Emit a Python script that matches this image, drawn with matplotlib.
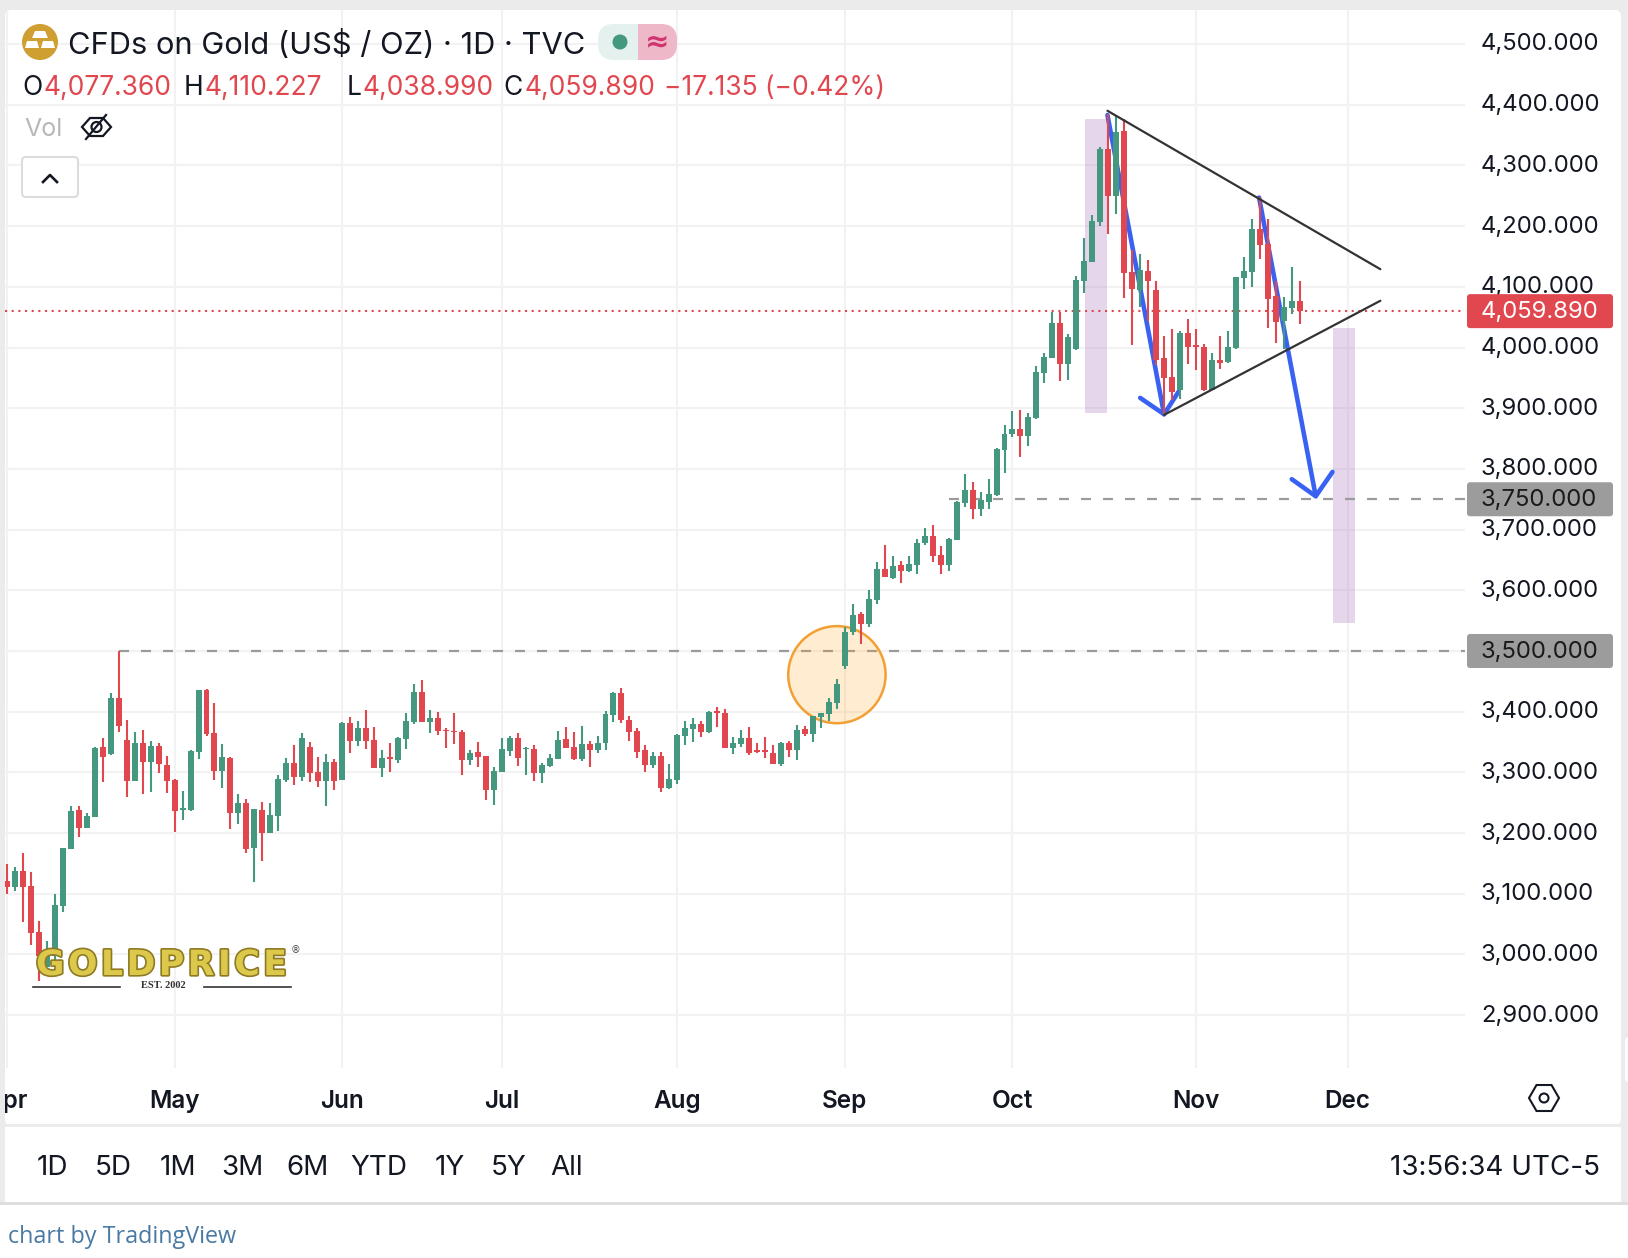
import matplotlib
matplotlib.use("Agg")
import matplotlib.pyplot as plt
import matplotlib.patheffects as pe
from matplotlib.patches import Rectangle, FancyBboxPatch, Ellipse, Circle, Polygon, RegularPolygon
from matplotlib.transforms import ScaledTranslation

# ---------- data ----------
opens = [3121,3111,3138,3113,3037,2980,2997,3080,3174,3238,3208,3227,3342,3330,3423,3353,3286,3348,3317,3343,
         3312,3287,3238,3238,3334,3436,3365,3302,3324,3233,3250,3176,3238,3200,3228,3287,3316,3292,3342,3301,
         3286,3317,3287,3381,3352,3373,3353,3307,3325,3320,3355,3383,3432,3383,3390,3370,3368,3367,3320,3334,
         3327,3271,3301,3335,3357,3339,3339,3299,3311,3322,3355,3342,3322,3347,3337,3348,3395,3431,3386,3368,
         3337,3312,3327,3274,3287,3360,3371,3380,3367,3401,3398,3340,3347,3357,3337,3337,3332,3314,3348,3337,
         3371,3363,3391,3396,3414,3475,3531,3561,3544,3584,3635,3620,3642,3632,3642,3678,3689,3658,3642,3683,
         3744,3765,3734,3745,3757,3831,3857,3866,3854,3884,3958,3983,4040,3973,3997,4109,4141,4207,4327,4249,
         4356,4124,4095,4126,4095,3983,3951,3930,4024,4004,4001,3930,3979,3976,3999,4114,4124,4195,4170,4085,
         4044,4065,4077]
highs = [3149,3144,3167,3136,3055,3022,3100,3176,3245,3245,3233,3342,3357,3431,3500,3386,3367,3370,3352,3348,
         3327,3289,3269,3337,3436,3437,3414,3347,3325,3264,3256,3240,3251,3250,3296,3324,3345,3365,3350,3325,
         3330,3322,3383,3391,3385,3403,3375,3337,3348,3358,3398,3446,3452,3403,3400,3373,3398,3370,3337,3350,
         3327,3309,3357,3360,3365,3342,3345,3316,3330,3368,3375,3367,3376,3352,3360,3401,3432,3439,3393,3373,
         3345,3334,3334,3314,3363,3385,3390,3385,3401,3408,3404,3358,3370,3375,3348,3358,3345,3350,3352,3378,
         3376,3393,3398,3423,3454,3539,3577,3564,3600,3647,3675,3656,3648,3656,3684,3703,3707,3673,3686,3747,
         3792,3778,3762,3783,3834,3872,3895,3897,3892,3969,3991,4058,4058,4022,4118,4180,4218,4330,4384,4381,
         4376,4160,4154,4144,4109,4019,4030,4027,4047,4030,4006,3991,4019,4027,4116,4149,4212,4248,4212,4109,
         4083,4132,4110]
lows = [3100,3105,3054,3016,2956,2980,2991,3070,3174,3194,3208,3227,3284,3329,3367,3260,3286,3264,3268,3299,
        3266,3202,3222,3236,3322,3360,3287,3274,3207,3215,3167,3120,3154,3200,3204,3284,3279,3286,3284,3276,
        3245,3271,3287,3332,3343,3339,3307,3292,3301,3315,3339,3380,3383,3365,3362,3340,3347,3296,3312,3309,
        3255,3246,3301,3327,3311,3296,3286,3283,3309,3322,3340,3320,3319,3309,3332,3337,3383,3381,3352,3324,
        3301,3307,3268,3273,3281,3345,3350,3358,3365,3375,3340,3330,3342,3329,3332,3324,3314,3311,3325,3320,
        3360,3350,3373,3385,3404,3470,3526,3511,3539,3577,3622,3619,3612,3630,3627,3675,3647,3627,3632,3683,
        3737,3717,3722,3734,3755,3793,3852,3819,3838,3882,3941,3983,3945,3946,3996,4090,4141,4200,4187,4220,
        4081,4004,4067,4044,3971,3889,3913,3915,3973,3963,3928,3930,3964,3974,3997,4096,4100,4146,4032,4007,
        3997,4055,4039]
closes = [3111,3138,3111,3036,2997,2997,3082,3176,3236,3208,3228,3340,3325,3423,3376,3286,3348,3317,3343,3314,
          3286,3236,3241,3335,3436,3363,3302,3325,3233,3250,3174,3240,3200,3230,3289,3316,3292,3357,3299,3286,
          3317,3286,3381,3352,3373,3352,3307,3324,3322,3357,3385,3432,3383,3390,3368,3368,3367,3320,3332,3325,
          3271,3302,3339,3357,3324,3340,3299,3312,3324,3353,3340,3322,3347,3337,3348,3396,3431,3386,3367,3334,
          3312,3327,3274,3289,3362,3373,3380,3367,3400,3398,3340,3348,3357,3332,3334,3334,3314,3348,3337,3370,
          3363,3393,3398,3416,3446,3531,3559,3544,3586,3635,3622,3640,3632,3643,3678,3689,3656,3642,3684,3745,
          3765,3734,3749,3759,3833,3857,3866,3854,3885,3959,3984,4040,3973,4017,4111,4142,4208,4327,4249,4355,
          4123,4096,4128,4109,3979,3950,3927,4024,4001,4001,3930,3979,3974,4001,4116,4126,4195,4169,4080,4042,
          4067,4076,4060]

price_ticks = [2900,3000,3100,3200,3300,3400,3500,3600,3700,3800,3900,4000,4100,4200,4300,4400,4500]
month_labels = ["Apr","May","Jun","Jul","Aug","Sep","Oct","Nov","Dec"]
month_bars = [0,21,42,62,84,105,126,149,168]
last_price = 4059.89
level_prices = [3750.0, 3500.0]
level_starts = [118, 14]
top_trend = ([137.9,172.1],[4390,4129])
low_trend = ([145.0,172.1],[3889,4077])
arrow_one = ([137.9,145.0],[4383,3890])
arrow_one_head = ([142.0,145.0,146.8],[3917,3890,3927])
arrow_two = ([156.9,164.0],[4247,3755])
arrow_two_head = ([161.0,164.0,166.1],[3783,3755,3795])
band_one = (135.1,137.8,3892,4376)
band_two = (166.2,168.9,3546,4032)
ohlc = [("O",22,"4,077.360",43.5),("H",184,"4,110.227",205),("L",347,"4,038.990",362.5),("C",503,"4,059.890",524)]
change_text = "\u221217.135 (\u22120.42%)"
ranges = [("1D",52),("5D",113),("1M",177.5),("3M",242),("6M",307),("YTD",379),("1Y",450),("5Y",509),("All",567)]

# ---------- look ----------
W,H = 1628,1258
GREEN,RED = "#44987f","#e0474f"
GRID = "#f2f2f2"
INK = "#131722"
BLUE = "#3a62f2"
UI = "Inter"
plt.rcParams["font.family"] = [UI,"DejaVu Sans"]

fig = plt.figure(figsize=(W/100,H/100),dpi=100,facecolor="white")

def box(l,t,r,b):
    return [l/W,1-b/H,(r-l)/W,(b-t)/H]

# page frame behind everything
bg = fig.add_axes([0,0,1,1],zorder=0); bg.set_xlim(0,W); bg.set_ylim(H,0); bg.axis("off")
bg.add_patch(Rectangle((0,0),W,1204,color="#ebebeb",lw=0))
bg.add_patch(FancyBboxPatch((5,10),1616,1115,boxstyle="round,pad=0,rounding_size=6",color="white",lw=0))
bg.add_patch(Rectangle((5,1127),1616,75,color="white",lw=0))

# main chart
ax = fig.add_axes(box(5,10,1465,1068),zorder=1)
ax.patch.set_alpha(0)
PX,X0 = 7.98,7.0
ax.set_xlim((5-X0)/PX,(1465-X0)/PX)
PY = 0.607
ax.set_ylim(3500+(651-1068)/PY,3500+(651-10)/PY)
for s in ax.spines.values(): s.set_visible(False)
ax.set_axisbelow(True)
ax.yaxis.tick_right()
ax.set_yticks(price_ticks)
ax.set_yticklabels([f"{p:,.3f}" for p in price_ticks],fontsize=17.2,color=INK)
ax.set_xticks(month_bars)
ax.set_xticklabels(month_labels,fontsize=17.5,color=INK,fontweight=600)
ax.tick_params(axis="y",length=0,pad=11.5)
ax.tick_params(axis="x",length=0,pad=15.5)
ax.grid(True,color=GRID,lw=1.5)
shift = ScaledTranslation(0,1.5/72,fig.dpi_scale_trans)
for lab in ax.get_yticklabels():
    lab.set_transform(lab.get_transform()+shift)

bars = list(range(len(opens)))
for b0,b1,p0,p1 in (band_one,band_two):
    ax.add_patch(Rectangle((b0,p0),b1-b0,p1-p0,facecolor="#9c5fb5",alpha=0.25,lw=0,zorder=2))
ax.axhline(last_price,color=RED,lw=1.5,ls=(0,(1,2.2)),zorder=2.4)
for p,st in zip(level_prices,level_starts):
    ax.plot([st,ax.get_xlim()[1]],[p,p],color="#9b9b9b",lw=1.6,ls=(0,(4.5,5.4)),zorder=2.5)
ax.add_patch(Ellipse((104,3461),12.2,160,facecolor="#ff9800",alpha=0.18,lw=0,zorder=3))
ax.add_patch(Ellipse((104,3461),12.2,160,facecolor="none",edgecolor="#f2a033",lw=1.8,zorder=3.1))
for ln in (arrow_one,arrow_one_head,arrow_two,arrow_two_head):
    ax.plot(*ln,color=BLUE,lw=3.3,zorder=3.5,solid_capstyle="round",solid_joinstyle="round")
cols = [RED if c<o else GREEN for o,c in zip(opens,closes)]
ax.vlines(bars,lows,highs,colors=cols,lw=1.5,zorder=4)
ax.bar(bars,[abs(c-o) for o,c in zip(opens,closes)],bottom=[min(o,c) for o,c in zip(opens,closes)],
       width=0.75,color=cols,lw=0,zorder=4.1)
for ln in (top_trend,low_trend):
    ax.plot(*ln,color="#333333",lw=1.6,zorder=5,solid_capstyle="round")

# interface drawn over the chart, in screen pixels
ui = fig.add_axes([0,0,1,1],zorder=2); ui.set_xlim(0,W); ui.set_ylim(H,0); ui.axis("off"); ui.patch.set_alpha(0)
ui.add_patch(Rectangle((0,0),5,1204,color="#ebebeb",lw=0,zorder=5))
ui.add_patch(Rectangle((0,1204),W,54,color="white",lw=0,zorder=5))
ui.add_patch(Rectangle((0,1202),W,3,color="#dedede",lw=0,zorder=5.5))
ui.add_patch(Rectangle((5,1124),1616,3,color="#ebebeb",lw=0))
ui.add_patch(Rectangle((1621,0),7,1204,color="#ebebeb",lw=0,zorder=5))
ui.add_patch(FancyBboxPatch((1625,1037),10,45,boxstyle="round,pad=0,rounding_size=4",color="white",lw=0,zorder=5.2))

def ypx(p): return 651+(3500-p)*PY

def tag(p,face,txt,col):
    y=ypx(p)
    ui.add_patch(FancyBboxPatch((1467,y-17),146,34,boxstyle="round,pad=0,rounding_size=3",facecolor=face,edgecolor="none"))
    ui.text(1481,y-2,txt,color=col,fontsize=17.2,va="center_baseline",ha="left")
tag(last_price,RED,f"{last_price:,.3f}","white")
for p in level_prices:
    tag(p,"#9c9c9c",f"{p:,.3f}","#1a1a1a")

# legend head
ui.add_patch(Circle((40,42),18,color="#cf9f31",lw=0))
for pts in ([(35,31),(45,31),(48,38),(32,38)],[(27,41),(37,41),(39,48),(25,48)],[(43,41),(53,41),(55,48),(41,48)]):
    ui.add_patch(Polygon(pts,closed=True,color="white",lw=0))
ui.text(67.5,42.5,"CFDs on Gold (US$ / OZ) \u00b7 1D \u00b7 TVC",fontsize=22.2,color=INK,va="center_baseline")
pill = FancyBboxPatch((598,24),79,36,boxstyle="round,pad=0,rounding_size=16",facecolor="none",edgecolor="none")
ui.add_patch(pill)
r1=Rectangle((598,24),40,36,color="#e4f1ee",lw=0); r2=Rectangle((638,24),39,36,color="#eeb8c9",lw=0)
ui.add_patch(r1); ui.add_patch(r2); r1.set_clip_path(pill); r2.set_clip_path(pill)
ui.add_patch(Circle((620,42),7.5,color=GREEN,lw=0))
ui.text(657.5,42,"\u2248",fontsize=21,color="#d0356f",ha="center",va="center",fontweight="bold",family="DejaVu Sans")
for a,ax_,v,vx in ohlc:
    ui.text(ax_,85,a,fontsize=19,color=INK,va="center_baseline")
    ui.text(vx,85,v,fontsize=19,color=RED,va="center_baseline")
ui.text(664,85,change_text,fontsize=19,color=RED,va="center_baseline")
ui.text(24,127,"Vol",fontsize=18,color="#b8b8b8",va="center_baseline")
# hidden-eye icon
ui.add_patch(Polygon([(82,127),(90,118),(103,118),(111,127),(103,136),(90,136)],closed=True,facecolor="none",edgecolor=INK,lw=1.6))
ui.add_patch(Circle((96.5,127),5,facecolor="none",edgecolor=INK,lw=1.6))
ui.plot([86,106],[139,115],color=INK,lw=1.6)
# collapse button
ui.add_patch(FancyBboxPatch((22,157),56,40,boxstyle="round,pad=0,rounding_size=4",facecolor="white",edgecolor="#dcdcdc",lw=1.5))
ui.plot([43,50,57],[182,175,182],color=INK,lw=1.9)

# logo
logo_word = "\u200a".join("GOLDPRICE")
ui.text(162,965,logo_word,fontsize=25,fontweight="bold",family="DejaVu Sans",color="#dcc84a",ha="center",va="center",
        path_effects=[pe.withStroke(linewidth=2.4,foreground="#8f7a24")],zorder=6)
ui.text(295,950,"\u00ae",fontsize=7,color="#444444",ha="center",va="center",family="DejaVu Sans",zorder=6)
ui.plot([33,120],[987,987],color="#333333",lw=1.2,zorder=6)
ui.plot([204,291],[987,987],color="#333333",lw=1.2,zorder=6)
ui.text(163,986,"EST. 2002",fontsize=7.5,fontweight="bold",family="Liberation Serif",color="#333333",ha="center",va="center",zorder=6)

# settings icon
ui.add_patch(RegularPolygon((1544,1098),6,radius=15,orientation=0.5236,facecolor="none",edgecolor=INK,lw=1.5))
ui.add_patch(Circle((1544,1098),4.5,facecolor="none",edgecolor=INK,lw=1.5))

# range row
for t,xc in ranges:
    ui.text(xc,1165,t,fontsize=20,color=INK,ha="center",va="center_baseline")
ui.text(1600,1165,"13:56:34 UTC-5",fontsize=20,color=INK,ha="right",va="center_baseline")
ui.text(8,1234,"chart by TradingView",fontsize=16.8,color="#4a7aa3",family="Open Sans",va="center_baseline",zorder=6)

fig.savefig("out.png",dpi=100)
